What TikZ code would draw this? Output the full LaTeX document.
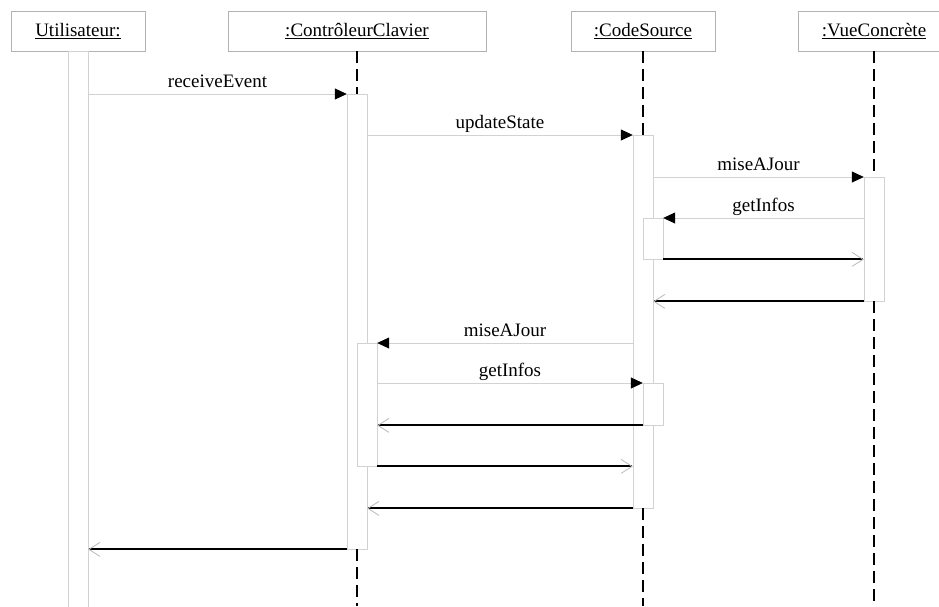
\documentclass[tikz,border=0pt]{standalone}
\usepackage{fontspec}
\setmainfont{Liberation Serif}
\usepackage{tikz}
\usetikzlibrary{arrows.meta}

\begin{document}
\begin{tikzpicture}
		[x=1pt,y=-1pt,line cap=butt,font=\fontsize{19}{22}\selectfont,
		%Styles
		head/.style={draw=boxgray,minimum height=40pt,inner sep=0pt},
		bar/.style={draw=bargray,minimum width=20pt,minimum height=#1,inner sep=0pt,anchor=north},
		nested bar/.style={bar=#1,fill=white},
		lifeline/.style={line width=1.8pt,dash pattern=on 12pt off 6pt},
		call/.style={draw=bargray,line width=0.8pt,-{Triangle[length=12pt,width=11pt,color=black]}},
		reply/.style={draw=black,line width=2pt,-{Straight Barb[length=11pt,width=14pt,color=tipgray,line width=0pt 0.4]}},
		msg label/.style={anchor=base,yshift=7pt}
		]
		
		%Colors
		\colorlet{boxgray}{gray!60}		%object boxes
		\colorlet{bargray}{gray!35}		%activation bars and calls
		\colorlet{tipgray}{gray!55}		%reply arrow tips
		
		\useasboundingbox (0,0) rectangle (939,606);
		\coordinate (bottom) at (0,606);
		
		%Objects
		\node[head,minimum width=134pt] (user) at (78,31) {\underline{Utilisateur:}};
		\node[head,minimum width=258pt] (ctrl) at (357,31) {\underline{:ContrôleurClavier}};
		\node[head,minimum width=144pt] (src) at (643,31) {\underline{:CodeSource}};
		\node[head,minimum width=152pt] (view) at (874,31) {\underline{:VueConcrète}};
		
		%Activations
		\node[bar=565] (actU) at (78,51) {};
		\node[bar=455] (actC1) at (357,94) {};
		\node[nested bar=123] (actC2) at (367,343) {};
		\node[bar=373] (actS1) at (643,135) {};
		\node[nested bar=41] (actS2) at (653,218) {};
		\node[nested bar=42] (actS3) at (653,383) {};
		\node[bar=124] (actV) at (874,177) {};
		
		%Lifelines
		\draw[lifeline] (ctrl) -- (actC1) (actC1.south) -- (actC1.south |- bottom);
		\draw[lifeline] (src) -- (actS1) (actS1.south) -- (actS1.south |- bottom);
		\draw[lifeline] (view) -- (actV) (actV.south) -- (actV.south |- bottom);
		
		%Messages
		\path[every edge/.style=call]
			(actU.east |- actC1.north)	edge	node[msg label] {receiveEvent}	(actC1.north west)
			(actC1.east |- actS1.north)	edge	node[msg label] {updateState}	(actS1.north west)
			(actS1.east |- actV.north)	edge	node[msg label] {miseAJour}	(actV.north west)
			(actV.west |- actS2.north)	edge	node[msg label] {getInfos}	(actS2.north east)
			(actS1.west |- actC2.north)	edge	node[msg label] {miseAJour}	(actC2.north east)
			(actC2.east |- actS3.north)	edge	node[msg label] {getInfos}	(actS3.north west);
		
		\path[every edge/.style=reply]
			(actS2.south east)	edge	(actV.west |- actS2.south)
			(actV.south west)	edge	(actS1.east |- actV.south)
			(actS3.south west)	edge	(actC2.east |- actS3.south)
			(actC2.south east)	edge	(actS1.west |- actC2.south)
			(actS1.south west)	edge	(actC1.east |- actS1.south)
			(actC1.south west)	edge	(actU.east |- actC1.south);
	\end{tikzpicture}
\end{document}
